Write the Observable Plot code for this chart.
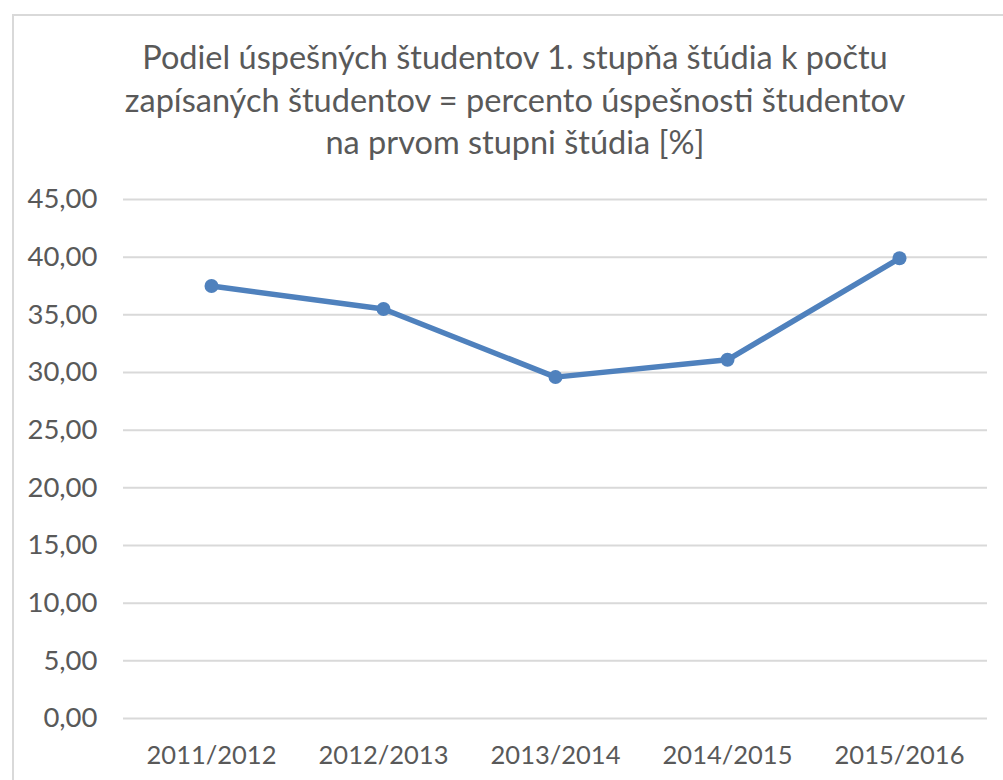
<!DOCTYPE html>
<html><head><meta charset="utf-8">
<script src="https://cdn.jsdelivr.net/npm/d3@7"></script>
<script src="https://cdn.jsdelivr.net/npm/@observablehq/plot@0.6"></script>
<style>
html,body{margin:0;padding:0;background:#fff;overflow:hidden;width:1003px;height:780px;}
#frame{position:absolute;left:12px;top:14px;width:1100px;height:900px;border:2px solid #d9d9d9;box-sizing:border-box;}
#title{position:absolute;left:0;top:36px;width:1030px;text-align:center;font-family:Lato,sans-serif;font-size:32.5px;line-height:42.5px;color:#595959;}
#chart{position:absolute;left:0;top:170px;}
</style></head>
<body>
<div id="frame"></div>
<div id="title">Podiel úspešných študentov 1. stupňa štúdia k počtu<br>zapísaných študentov = percento úspešnosti študentov<br>na prvom stupni štúdia [%]</div>
<div id="chart"></div>
<script>
const years = ["2011/2012","2012/2013","2013/2014","2014/2015","2015/2016"];
const values = [37.5, 35.5, 29.6, 31.1, 39.9];
const yTicks = [0,5,10,15,20,25,30,35,40,45];

const data = years.map((y,i)=>({year:y, value:values[i]}));
const fmt = d => d.toFixed(2).replace(".", ",");
const blue = "#4f81bd";

const chart = Plot.plot({
  width: 1003,
  height: 610,
  marginTop: 29,
  marginBottom: 62,
  marginLeft: 123,
  marginRight: 16,
  style: {fontFamily: "Lato, sans-serif", fontSize: "25.5px", color: "#595959", background: "transparent"},
  x: {type: "point", domain: years, padding: 0.5},
  y: {domain: [0,45]},
  marks: [
    Plot.ruleY(yTicks, {stroke: "#d9d9d9", strokeWidth: 2}),
    Plot.axisX({tickSize: 0, tickPadding: 27, label: null, fontSize: 25.5, fill: "#595959"}),
    Plot.axisY({ticks: yTicks, tickFormat: fmt, tickSize: 0, tickPadding: 26, label: null, fontSize: 27.5, fill: "#595959"}),
    Plot.line(data, {x: "year", y: "value", stroke: blue, strokeWidth: 5.5, strokeLinejoin: "round", strokeLinecap: "round"}),
    Plot.dot(data, {x: "year", y: "value", fill: blue, r: 7, stroke: null})
  ]
});
document.getElementById("chart").appendChild(chart);
</script>
</body></html>
